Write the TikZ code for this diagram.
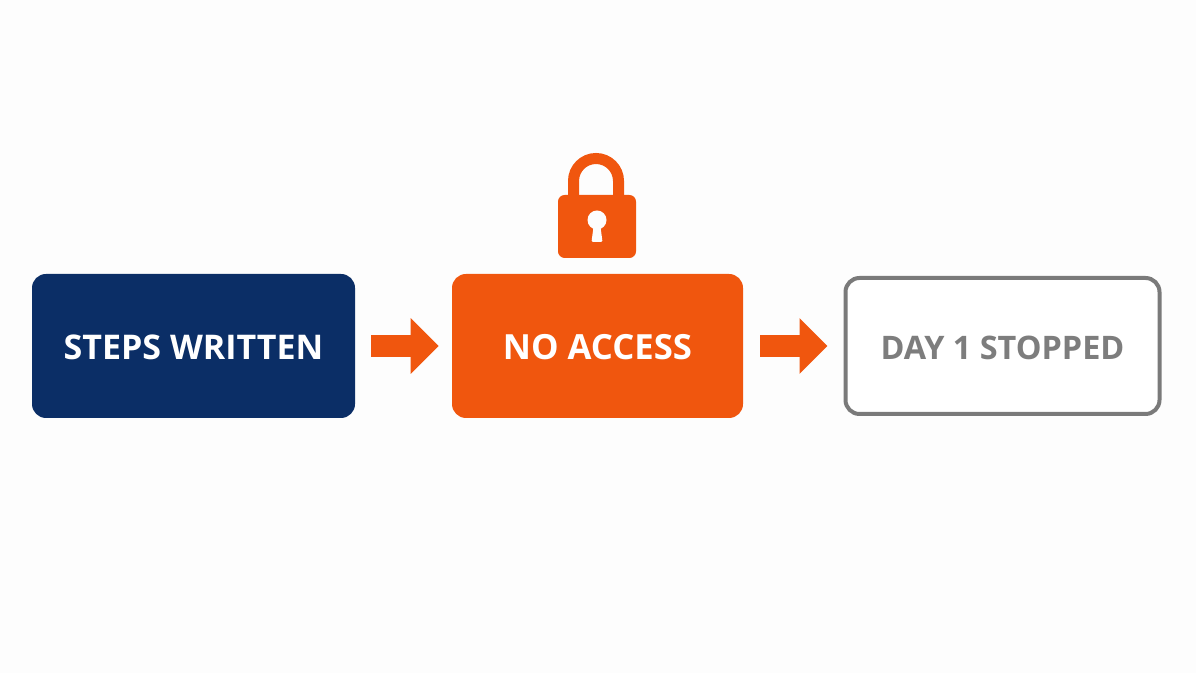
\documentclass[tikz,border=0pt]{standalone}
\usepackage{fontspec}
\setmainfont{Open Sans}
\usetikzlibrary{arrows.meta}
\definecolor{navybox}{HTML}{0B2E66}
\definecolor{orangebox}{HTML}{F0560E}
\definecolor{greyline}{HTML}{7A7A7A}
\definecolor{greytext}{HTML}{7D7D7D}
\definecolor{paper}{HTML}{FDFDFD}
\tikzset{
  stagebox/.style={rounded corners=10.5pt,inner sep=0pt,minimum height=108pt,text height=20pt,text depth=0pt,font=\fontsize{25.5}{30}\selectfont\bfseries,text=white},
  flowarrow/.style={orangebox,line width=16.5pt,-{Triangle[length=21pt,width=40.5pt]}},
}
\begin{document}
\begin{tikzpicture}[x=.75pt,y=.75pt]
\useasboundingbox[fill=paper](0,0)rectangle(1196,673);
\node[stagebox,fill=navybox,minimum width=242.25pt](written)at(193.5,327){STEPS WRITTEN};
\node[stagebox,fill=orangebox,minimum width=218.25pt,font=\fontsize{26}{30}\selectfont\bfseries](noaccess)at(597.5,327){NO ACCESS};
\node[stagebox,draw=greyline,line width=3pt,fill=white,text=greytext,minimum width=235.5pt,minimum height=102pt,font=\fontsize{24.3}{30}\selectfont\bfseries](stopped)at(1002.5,327){DAY 1 STOPPED};
\draw[flowarrow,shorten <=12pt,shorten >=9.75pt](written.east)--(noaccess.west);
\draw[flowarrow,shorten <=12.75pt,shorten >=12pt](noaccess.east)--(stopped.west);
% lock
\draw[orangebox,line width=8.25pt](573.5,470)--(573.5,492)arc[start angle=180,end angle=0,radius=22.5]--(618.5,470);
\fill[orangebox,rounded corners=5pt](558,415)rectangle(636,478);
\fill[paper](597,453)circle(9.5);
\fill[paper,rounded corners=1pt](594,450)--(591.5,431)--(602.5,431)--(600,450)--cycle;
\end{tikzpicture}
\end{document}
